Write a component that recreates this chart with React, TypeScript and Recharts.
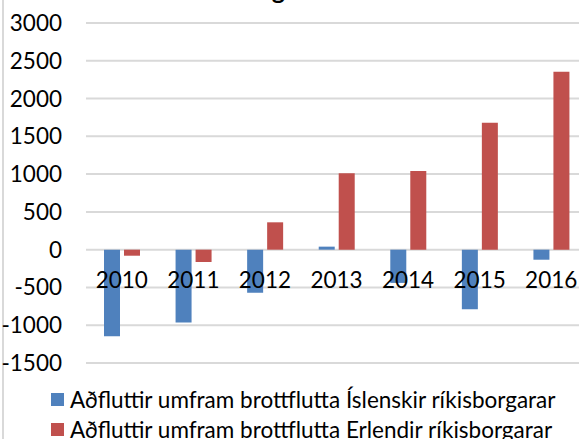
import { BarChart, Bar, XAxis, YAxis, CartesianGrid, Legend } from "recharts";

// Búferlaflutningar, aðfluttir umfram brottflutta
const years = ["2010", "2011", "2012", "2013", "2014", "2015", "2016"];
const icelandic = [-1145, -964, -570, 40, -440, -787, -133];
const foreign = [-80, -163, 362, 1010, 1040, 1680, 2355];
const yTicks = [-1500, -1000, -500, 0, 500, 1000, 1500, 2000, 2500, 3000];
const seriesNames = [
  "Aðfluttir umfram brottflutta Íslenskir ríkisborgarar",
  "Aðfluttir umfram brottflutta Erlendir ríkisborgarar",
];
const seriesColors = ["#4f81bd", "#c0504d"];
const title = "Búferlaflutningar 2010-2016";

const data = years.map((year, i) => ({
  year,
  icelandic: icelandic[i],
  foreign: foreign[i],
}));

const FONT = "Lato, 'Open Sans', sans-serif";
const FS = 22.5;
const W = 600;
const H = 439;
const TOP = 23;
const BOTTOM = 76;
const X_AXIS_H = 30;
const Y_MIN = yTicks[0];
const Y_MAX = yTicks[yTicks.length - 1];
const zeroY = TOP + ((H - TOP - BOTTOM) * Y_MAX) / (Y_MAX - Y_MIN);

const renderYearTick = (props: any) => {
  const { x, payload, index } = props;
  return (
    <text
      key={index}
      x={x}
      y={zeroY + 38}
      textAnchor="middle"
      fontSize={FS}
      fontFamily={FONT}
      fill="#000"
    >
      {payload.value}
    </text>
  );
};

function LegendBox() {
  return (
    <div style={{ fontFamily: FONT, fontSize: FS, color: "#000" }}>
      {seriesNames.map((name, i) => (
        <div
          key={name}
          style={{ display: "flex", alignItems: "center", height: 30, whiteSpace: "nowrap" }}
        >
          <span
            style={{
              display: "inline-block",
              width: 13,
              height: 13,
              background: seriesColors[i],
              marginRight: 6,
            }}
          />
          {name}
        </div>
      ))}
    </div>
  );
}

export default function App() {
  return (
    <div
      style={{
        position: "fixed",
        left: 0,
        top: 0,
        width: 579,
        height: 439,
        overflow: "hidden",
        background: "#fff",
      }}
    >
      <div
        style={{
          position: "absolute",
          left: 2,
          top: 0,
          width: 2,
          height: H,
          background: "#d9d9d9",
        }}
      />
      <div
        style={{
          position: "absolute",
          left: 78,
          width: 400,
          top: -23,
          lineHeight: "24px",
          textAlign: "center",
          fontFamily: FONT,
          fontWeight: 700,
          fontSize: 25,
          whiteSpace: "nowrap",
        }}
      >
        {title}
      </div>
      <BarChart
        width={W}
        height={H}
        data={data}
        margin={{ top: TOP, right: 13, bottom: BOTTOM - X_AXIS_H, left: 0 }}
        barSize={16}
        barGap={4}
      >
        <CartesianGrid vertical={false} stroke="#d9d9d9" strokeWidth={2} />
        <XAxis
          dataKey="year"
          height={X_AXIS_H}
          axisLine={false}
          tickLine={false}
          tick={renderYearTick}
          interval={0}
        />
        <YAxis
          domain={[Y_MIN, Y_MAX]}
          ticks={yTicks}
          width={86}
          tickSize={0}
          tickMargin={24}
          axisLine={false}
          tickLine={false}
          tick={{ fontSize: FS, fontFamily: FONT, fill: "#000" }}
          interval={0}
        />
        <Legend
          layout="horizontal"
          verticalAlign="middle"
          align="center"
          content={<LegendBox />}
          wrapperStyle={{ left: 51, top: 384, width: 560 }}
        />
        <Bar
          dataKey="icelandic"
          name={seriesNames[0]}
          fill={seriesColors[0]}
          isAnimationActive={false}
        />
        <Bar
          dataKey="foreign"
          name={seriesNames[1]}
          fill={seriesColors[1]}
          isAnimationActive={false}
        />
      </BarChart>
    </div>
  );
}
